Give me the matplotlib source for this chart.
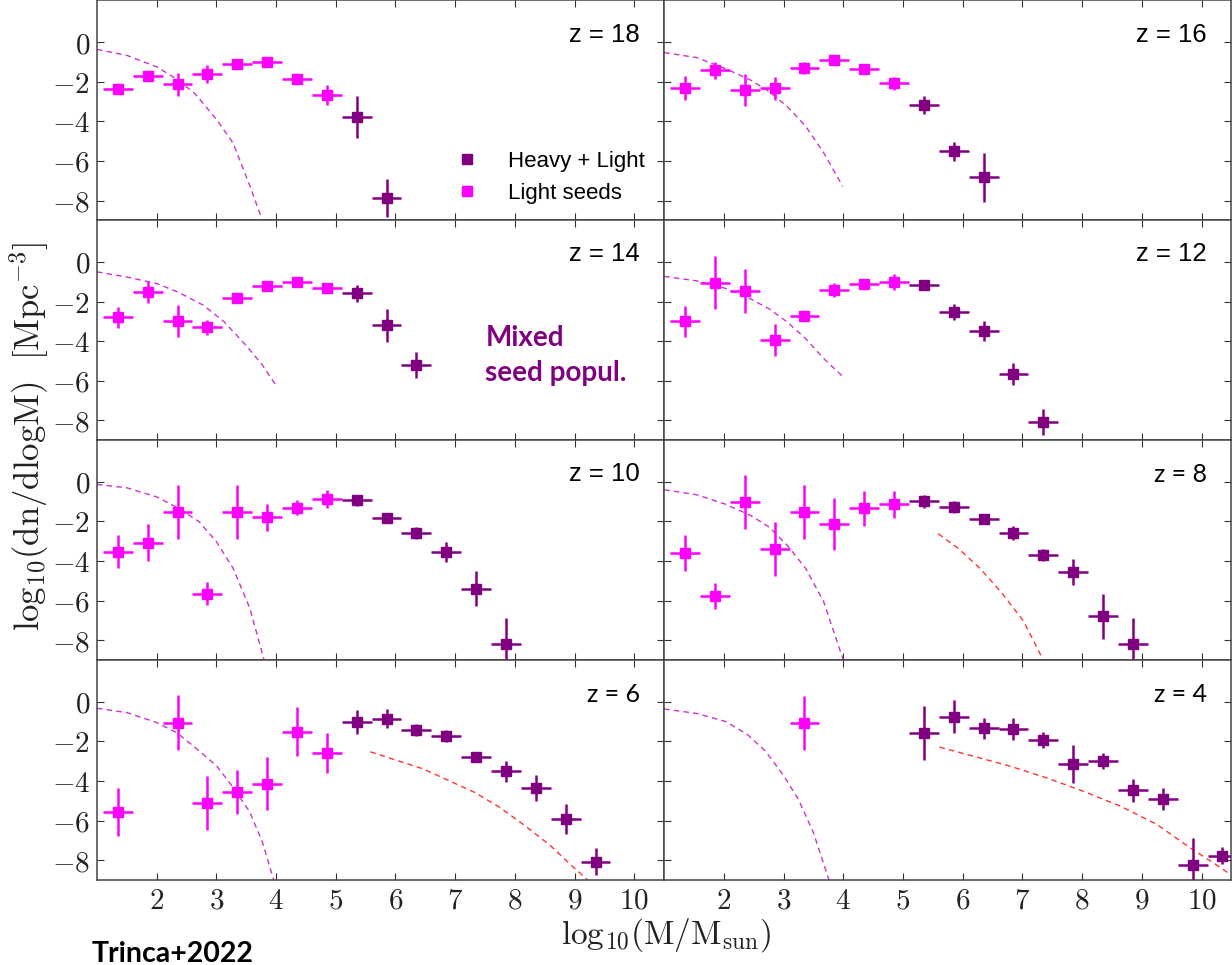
import matplotlib.pyplot as plt
from matplotlib.lines import Line2D
from matplotlib.ticker import FuncFormatter

plt.rcParams['mathtext.fontset'] = 'cm'

LIGHT = '#ff00ff'
HEAVY = '#800080'
CURVE_LIGHT = '#cc33cc'
CURVE_HEAVY = '#ff3333'
XERR = 0.25  # half bin width in log10(M)

# z = 18
z18_light_x = [1.35, 1.85, 2.35, 2.85, 3.35, 3.85, 4.35, 4.85]
z18_light_y = [-2.37, -1.72, -2.13, -1.62, -1.13, -1.03, -1.85, -2.67]
z18_light_err = [0.22, 0.25, 0.58, 0.45, 0.15, 0.1, 0.2, 0.5]
z18_heavy_x = [5.35, 5.85]
z18_heavy_y = [-3.78, -7.87]
z18_heavy_err = [1.05, 0.95]
z18_curve_x = [1.0, 1.5, 2.0, 2.35, 2.64, 3.0, 3.28, 3.56, 3.77]
z18_curve_y = [-0.37, -0.67, -1.25, -1.9, -2.6, -3.9, -5.1, -7.25, -9.0]

# z = 16
z16_light_x = [1.35, 1.85, 2.35, 2.85, 3.35, 3.85, 4.35, 4.85]
z16_light_y = [-2.3, -1.42, -2.42, -2.33, -1.3, -0.88, -1.37, -2.08]
z16_light_err = [0.6, 0.42, 0.82, 0.57, 0.3, 0.1, 0.1, 0.33]
z16_heavy_x = [5.35, 5.85, 6.35]
z16_heavy_y = [-3.18, -5.52, -6.83]
z16_heavy_err = [0.45, 0.47, 1.22]
z16_curve_x = [1.0, 1.54, 2.02, 2.45, 2.76, 3.06, 3.37, 3.67, 3.99]
z16_curve_y = [-0.53, -0.78, -1.33, -1.92, -2.5, -3.25, -4.25, -5.58, -7.28]

# z = 14
z14_light_x = [1.35, 1.85, 2.35, 2.85, 3.35, 3.85, 4.35, 4.85]
z14_light_y = [-2.8, -1.51, -2.99, -3.3, -1.8, -1.21, -1.01, -1.31]
z14_light_err = [0.55, 0.56, 0.82, 0.38, 0.2, 0.1, 0.1, 0.25]
z14_heavy_x = [5.35, 5.85, 6.35]
z14_heavy_y = [-1.59, -3.19, -5.2]
z14_heavy_err = [0.45, 0.84, 0.67]
z14_curve_x = [1.0, 1.5, 2.0, 2.35, 2.78, 3.13, 3.49, 3.77, 4.0]
z14_curve_y = [-0.5, -0.76, -1.09, -1.51, -2.18, -3.02, -4.19, -5.2, -6.24]

# z = 12
z12_light_x = [1.35, 1.85, 2.35, 2.85, 3.35, 3.85, 4.35, 4.85]
z12_light_y = [-3.0, -1.05, -1.47, -3.95, -2.73, -1.43, -1.12, -1.03]
z12_light_err = [0.8, 1.33, 1.1, 0.8, 0.25, 0.35, 0.2, 0.4]
z12_heavy_x = [5.35, 5.85, 6.35, 6.85, 7.35]
z12_heavy_y = [-1.18, -2.53, -3.48, -5.67, -8.07]
z12_heavy_err = [0.2, 0.4, 0.5, 0.55, 0.67]
z12_curve_x = [1.0, 1.54, 2.02, 2.45, 2.76, 3.06, 3.37, 3.67, 3.99]
z12_curve_y = [-0.73, -0.95, -1.33, -1.87, -2.37, -3.03, -3.87, -4.87, -5.78]

# z = 10
z10_light_x = [1.35, 1.85, 2.35, 2.85, 3.35, 3.85, 4.35, 4.85]
z10_light_y = [-3.52, -3.07, -1.51, -5.65, -1.51, -1.8, -1.31, -0.87]
z10_light_err = [0.84, 0.94, 1.36, 0.58, 1.36, 0.7, 0.38, 0.45]
z10_heavy_x = [5.35, 5.85, 6.35, 6.85, 7.35, 7.85]
z10_heavy_y = [-0.94, -1.85, -2.6, -3.56, -5.4, -8.19]
z10_heavy_err = [0.3, 0.2, 0.3, 0.5, 0.88, 1.34]
z10_curve_x = [1.0, 1.5, 2.0, 2.35, 2.71, 3.0, 3.28, 3.56, 3.8]
z10_curve_y = [-0.13, -0.3, -0.76, -1.31, -2.01, -3.02, -4.36, -6.38, -9.0]

# z = 8
z8_light_x = [1.35, 1.85, 2.35, 2.85, 3.35, 3.85, 4.35, 4.85]
z8_light_y = [-3.59, -5.76, -1.03, -3.39, -1.54, -2.14, -1.34, -1.14]
z8_light_err = [0.93, 0.65, 1.36, 1.34, 1.36, 1.32, 0.9, 0.68]
z8_heavy_x = [5.35, 5.85, 6.35, 6.85, 7.35, 7.85, 8.35, 8.85]
z8_heavy_y = [-0.99, -1.25, -1.87, -2.57, -3.71, -4.54, -6.79, -8.18]
z8_heavy_err = [0.35, 0.3, 0.2, 0.35, 0.3, 0.65, 1.13, 1.3]
z8_curve_x = [1.0, 1.54, 2.02, 2.45, 2.76, 3.06, 3.37, 3.67, 4.0]
z8_curve_y = [-0.4, -0.65, -1.12, -1.7, -2.29, -3.2, -4.37, -6.04, -9.0]
z8_heavy_curve_x = [5.59, 5.93, 6.29, 6.66, 7.02, 7.35]
z8_heavy_curve_y = [-2.62, -3.37, -4.37, -5.63, -7.04, -9.0]

# z = 6
z6_light_x = [1.35, 2.35, 2.85, 3.35, 3.85, 4.35, 4.85]
z6_light_y = [-5.57, -1.05, -5.12, -4.57, -4.15, -1.52, -2.59]
z6_light_err = [1.23, 1.37, 1.36, 1.1, 1.34, 1.23, 1.0]
z6_heavy_x = [5.35, 5.85, 6.35, 6.85, 7.35, 7.85, 8.35, 8.85, 9.35]
z6_heavy_y = [-1.02, -0.85, -1.44, -1.72, -2.78, -3.51, -4.35, -5.91, -8.08]
z6_heavy_err = [0.6, 0.5, 0.3, 0.3, 0.25, 0.52, 0.66, 0.75, 0.67]
z6_curve_x = [1.0, 1.5, 2.0, 2.35, 2.71, 3.0, 3.28, 3.56, 3.77, 3.96]
z6_curve_y = [-0.33, -0.55, -1.05, -1.59, -2.48, -3.23, -4.32, -5.57, -7.08, -9.0]
z6_heavy_curve_x = [5.58, 6.04, 6.47, 6.89, 7.32, 7.74, 8.16, 8.59, 8.94, 9.22]
z6_heavy_curve_y = [-2.53, -2.98, -3.4, -3.98, -4.57, -5.32, -6.24, -7.25, -8.25, -9.0]

# z = 4
z4_light_x = [3.35]
z4_light_y = [-1.09]
z4_light_err = [1.37]
z4_heavy_x = [5.35, 5.85, 6.35, 6.85, 7.35, 7.85, 8.35, 8.85, 9.35, 9.85, 10.35]
z4_heavy_y = [-1.59, -0.75, -1.34, -1.39, -1.92, -3.13, -3.01, -4.47, -4.9, -8.23, -7.78]
z4_heavy_err = [1.37, 0.85, 0.54, 0.55, 0.4, 0.96, 0.4, 0.58, 0.55, 1.37, 0.42]
z4_curve_x = [1.0, 1.54, 2.03, 2.4, 2.7, 3.01, 3.25, 3.5, 3.76]
z4_curve_y = [-0.37, -0.59, -1.0, -1.67, -2.51, -3.77, -4.94, -6.61, -9.0]
z4_heavy_curve_x = [5.61, 6.19, 6.8, 7.41, 8.02, 8.64, 9.25, 9.8, 10.23, 10.52]
z4_heavy_curve_y = [-2.29, -2.76, -3.26, -3.85, -4.52, -5.27, -6.19, -7.36, -8.2, -8.8]

panels = [
    ('z = 18', 'Liberation Sans', z18_light_x, z18_light_y, z18_light_err, z18_heavy_x, z18_heavy_y, z18_heavy_err,
     z18_curve_x, z18_curve_y, None, None),
    ('z = 16', 'Liberation Sans', z16_light_x, z16_light_y, z16_light_err, z16_heavy_x, z16_heavy_y, z16_heavy_err,
     z16_curve_x, z16_curve_y, None, None),
    ('z = 14', 'Liberation Sans', z14_light_x, z14_light_y, z14_light_err, z14_heavy_x, z14_heavy_y, z14_heavy_err,
     z14_curve_x, z14_curve_y, None, None),
    ('z = 12', 'Liberation Sans', z12_light_x, z12_light_y, z12_light_err, z12_heavy_x, z12_heavy_y, z12_heavy_err,
     z12_curve_x, z12_curve_y, None, None),
    ('z = 10', 'Liberation Sans', z10_light_x, z10_light_y, z10_light_err, z10_heavy_x, z10_heavy_y, z10_heavy_err,
     z10_curve_x, z10_curve_y, None, None),
    ('z = 8', 'Lato', z8_light_x, z8_light_y, z8_light_err, z8_heavy_x, z8_heavy_y, z8_heavy_err,
     z8_curve_x, z8_curve_y, z8_heavy_curve_x, z8_heavy_curve_y),
    ('z = 6', 'Lato', z6_light_x, z6_light_y, z6_light_err, z6_heavy_x, z6_heavy_y, z6_heavy_err,
     z6_curve_x, z6_curve_y, z6_heavy_curve_x, z6_heavy_curve_y),
    ('z = 4', 'Lato', z4_light_x, z4_light_y, z4_light_err, z4_heavy_x, z4_heavy_y, z4_heavy_err,
     z4_curve_x, z4_curve_y, z4_heavy_curve_x, z4_heavy_curve_y),
]

x_ticks = [2, 3, 4, 5, 6, 7, 8, 9, 10]
y_ticks = [0, -2, -4, -6, -8]

fig, axes = plt.subplots(4, 2, figsize=(12.32, 9.65), dpi=100, sharex=True, sharey=True)
fig.subplots_adjust(left=0.0787, right=0.9995, top=0.9995, bottom=0.0881, hspace=0, wspace=0)

tick_fmt = FuncFormatter(lambda v, p: r'$%d$' % v)

for ax, (label, lfont, lx, ly, le, hx, hy, he, cx, cy, rx, ry) in zip(axes.flat, panels):
    ax.plot(cx, cy, color=CURVE_LIGHT, lw=1.0, ls=(0, (4, 3)))
    if rx is not None:
        ax.plot(rx, ry, color=CURVE_HEAVY, lw=1.0, ls=(0, (4, 3)))
    ax.errorbar(lx, ly, xerr=XERR, yerr=le, fmt='s', color=LIGHT, ms=7, elinewidth=1.8, capsize=0)
    ax.errorbar(hx, hy, xerr=XERR, yerr=he, fmt='s', color=HEAVY, ms=7, elinewidth=1.8, capsize=0)
    ax.text(0.957, 0.845, label, transform=ax.transAxes, ha='right', va='center',
            fontsize=18.5 if lfont == 'Liberation Sans' else 18, family=lfont)

    ax.set_xlim(1, 10.5)
    ax.set_ylim(-9, 2.1)
    ax.set_xticks(x_ticks)
    ax.set_yticks(y_ticks)
    ax.xaxis.set_major_formatter(tick_fmt)
    ax.yaxis.set_major_formatter(tick_fmt)
    ax.tick_params(direction='in', top=True, right=True, length=5, width=0.8,
                   labelsize=21, colors='#333333', labelcolor='#222222')
    ax.tick_params(axis='x', pad=5)
    ax.tick_params(axis='y', pad=5)
    for s in ax.spines.values():
        s.set_color('#444444')
        s.set_linewidth(1.1)

handles = [Line2D([], [], marker='s', ls='none', color=HEAVY, ms=7),
           Line2D([], [], marker='s', ls='none', color=LIGHT, ms=7)]
axes[0, 0].legend(handles, ['Heavy + Light', 'Light seeds'], loc='upper left', bbox_to_anchor=(0.617, 0.368),
                  frameon=False, borderpad=0, handlelength=0.8, handletextpad=1.45, labelspacing=0.5,
                  prop={'family': 'Liberation Sans', 'size': 16})

axes[1, 0].text(0.685, 0.429, 'Mixed', transform=axes[1, 0].transAxes, ha='left', va='baseline',
                fontsize=20, fontweight='bold', family='Lato', color=HEAVY)
axes[1, 0].text(0.685, 0.268, 'seed popul.', transform=axes[1, 0].transAxes, ha='left', va='baseline',
                fontsize=20, fontweight='bold', family='Lato', color=HEAVY)

fig.text(0.024, 0.548, r'$\mathrm{log}_{10}(\mathrm{dn/dlogM})\ \ [\mathrm{Mpc}^{-3}]$', rotation=90,
         ha='center', va='center', fontsize=25, color='#222222')
fig.text(0.541, 0.031, r'$\mathrm{log}_{10}(\mathrm{M/M_{sun}})$', ha='center', va='center',
         fontsize=24, color='#222222')
fig.text(0.074, 0.003, 'Trinca+2022', ha='left', va='baseline', fontsize=20.5,
         fontweight='bold', family='Lato', color='black')

fig.savefig('out.png', dpi=100)
